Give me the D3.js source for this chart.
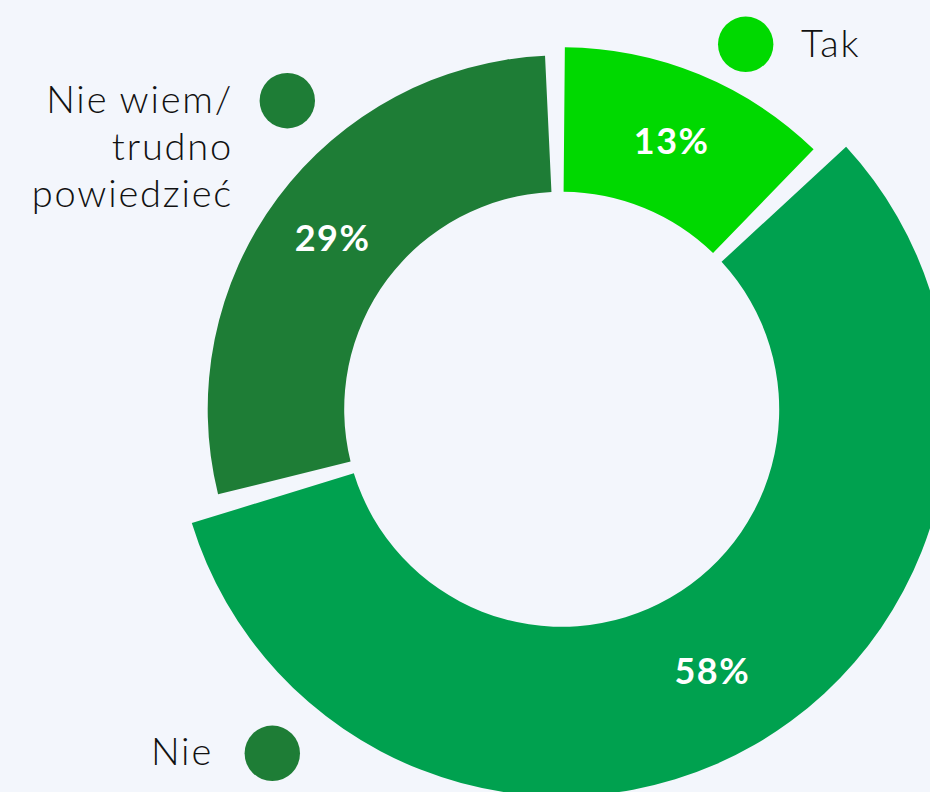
<!DOCTYPE html>
<html>
<head>
<meta charset="utf-8">
<script src="https://cdn.jsdelivr.net/npm/d3@7"></script>
<style>
    html, body { margin: 0; padding: 0; background: #f3f6fc; }
    svg { display: block; }
    .legend text { font-family: Lato, "Noto Sans", sans-serif; font-weight: 300; font-size: 38px; fill: #111; letter-spacing: 1.8px; }
    .pct { font-family: Lato, "Noto Sans", sans-serif; font-weight: 700; font-size: 36px; fill: #fff; letter-spacing: 1.5px; }
</style>
</head>
<body>
<script>
// data
var categories = ['Tak', 'Nie', 'Nie wiem/ trudno powiedzieć'];
var values = [13, 58, 29];
var valueLabels = ['13%', '58%', '29%'];
var legendLines = [['Tak'], ['Nie'], ['Nie wiem/', 'trudno', 'powiedzieć']];

(function() {
    var w = 930,
        h = 792,
        cx = 561.7,
        cy = 409.3,
        innerR = 217.5,
        pad = 3.2 * Math.PI / 180, // angular gap between slices
        start = -1.1 * Math.PI / 180;

    // look of each slice
    var fill = d3.scaleOrdinal()
        .domain(categories)
        .range(['#00d900', '#00a14f', '#1e7d36']);
    var outerR = d3.scaleOrdinal()
        .domain(categories)
        .range([362, 387, 354]);
    // the legend dot of "Nie" is the dark green one in the original
    var dotFill = d3.scaleOrdinal()
        .domain(categories)
        .range(['#00d900', '#1e7d36', '#1e7d36']);

    // legend placement: dot centre, text anchor point
    var legendPos = {
        'Tak': {dx: 745.7, dy: 44.3, tx: 801, ty: 57, anchor: 'start'},
        'Nie': {dx: 272.3, dy: 753.3, tx: 213, ty: 765, anchor: 'end'},
        'Nie wiem/ trudno powiedzieć': {dx: 287.3, dy: 100.7, tx: 233, ty: 113, anchor: 'end'}
    };

    var svg = d3.select('body')
        .append('svg')
        .attr('width', w)
        .attr('height', h);

    svg.append('rect')
        .attr('width', w)
        .attr('height', h)
        .attr('fill', '#f3f6fc');

    var rows = categories.map(function(c, i) {
        return {cat: c, value: values[i], label: valueLabels[i], lines: legendLines[i]};
    });

    var pie = d3.pie()
        .sort(null)
        .value(function(d) { return d.value; })
        .startAngle(start)
        .endAngle(start + 2 * Math.PI);

    var arc = d3.arc()
        .innerRadius(innerR)
        .outerRadius(function(d) { return outerR(d.data.cat); })
        .startAngle(function(d) { return d.startAngle + pad / 2; })
        .endAngle(function(d) { return d.endAngle - pad / 2; });

    var g = svg.append('g')
        .attr('transform', 'translate(' + cx + ',' + cy + ')');

    var slices = g.selectAll('.slice')
        .data(pie(rows))
        .enter()
        .append('g')
        .attr('class', 'slice');

    slices.append('path')
        .attr('d', arc)
        .attr('fill', function(d) { return fill(d.data.cat); });

    slices.append('text')
        .attr('class', 'pct')
        .attr('transform', function(d) { return 'translate(' + arc.centroid(d) + ')'; })
        .attr('text-anchor', 'middle')
        .attr('dy', '0.36em')
        .text(function(d) { return d.data.label; });

    // legend
    var legend = svg.selectAll('.legend')
        .data(rows)
        .enter()
        .append('g')
        .attr('class', 'legend');

    legend.append('circle')
        .attr('cx', function(d) { return legendPos[d.cat].dx; })
        .attr('cy', function(d) { return legendPos[d.cat].dy; })
        .attr('r', 27.7)
        .attr('fill', function(d) { return dotFill(d.cat); });

    legend.append('text')
        .attr('x', function(d) { return legendPos[d.cat].tx; })
        .attr('y', function(d) { return legendPos[d.cat].ty; })
        .attr('text-anchor', function(d) { return legendPos[d.cat].anchor; })
        .selectAll('tspan')
        .data(function(d) { return d.lines.map(function(l) { return {line: l, x: legendPos[d.cat].tx}; }); })
        .enter()
        .append('tspan')
        .attr('x', function(d) { return d.x; })
        .attr('dy', function(d, i) { return i ? 47 : 0; })
        .text(function(d) { return d.line; });
})();
</script>
</body>
</html>
